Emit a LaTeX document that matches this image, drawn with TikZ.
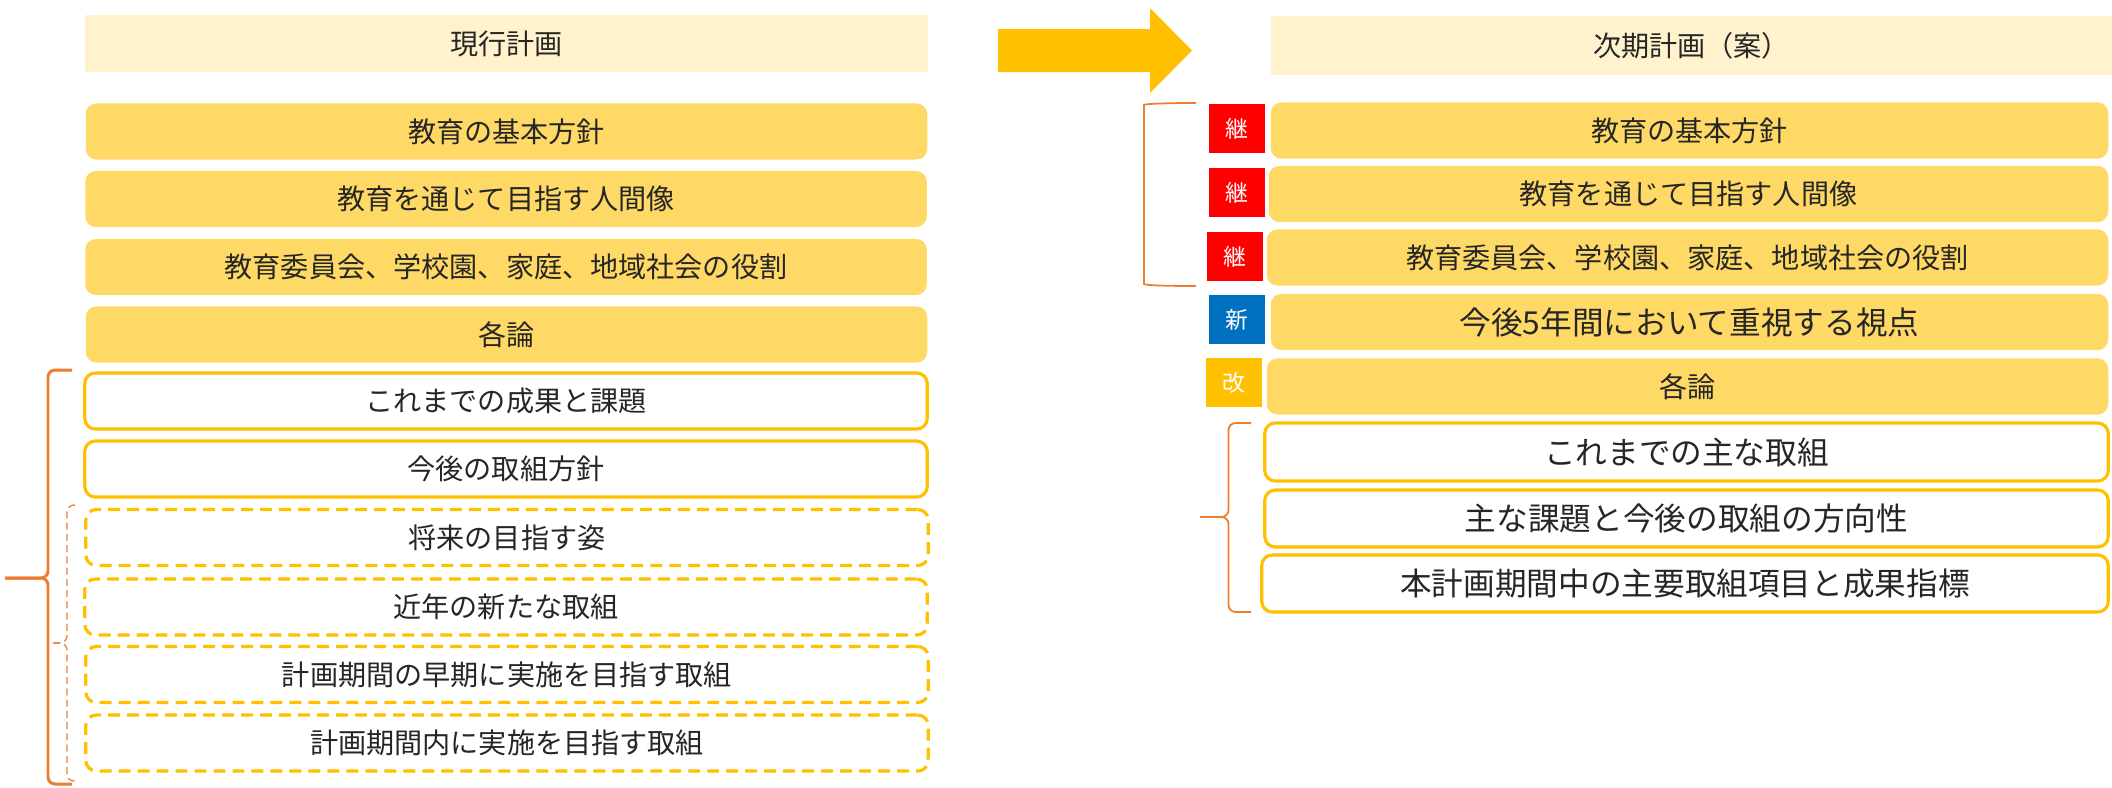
\documentclass[tikz,border=0pt]{standalone}
\usepackage{fontspec}
\setmainfont{Noto Sans CJK JP}
\definecolor{cream}{HTML}{FFF2CC}
\definecolor{gold}{HTML}{FFD966}
\definecolor{amber}{HTML}{FFC000}
\definecolor{bracecol}{HTML}{ED7D31}
\definecolor{keizoku}{HTML}{FF0000}
\definecolor{shinki}{HTML}{0070C0}
\definecolor{ink}{HTML}{262626}

\begin{document}
\begin{tikzpicture}[x=0.01cm,y=-0.01cm,
   headbox/.style={fill=cream,minimum height=0.56cm,inner sep=0pt,text=ink,font=\fontsize{8}{10}\selectfont},
   mainbox/.style={fill=gold,rounded corners=3pt,minimum height=0.56cm,inner sep=0pt,text=ink,font=\fontsize{8}{10}\selectfont},
   linebox/.style={draw=amber,line width=0.9pt,fill=white,rounded corners=3pt,minimum height=0.56cm,inner sep=0pt,text=ink,font=\fontsize{8}{10}\selectfont},
   dashbox/.style={linebox,dash pattern=on 3.4pt off 2pt},
   tagbox/.style={minimum width=0.56cm,minimum height=0.49cm,inner sep=0pt,text=white,font=\fontsize{6.5}{8}\selectfont},
   bigbrace/.style={draw=bracecol,line width=0.85pt,rounded corners=2pt},
   thinbrace/.style={draw=bracecol,line width=0.5pt,rounded corners=2pt}]
   \useasboundingbox (0,0) rectangle (2112,787);

   % present plan
   \node[headbox,minimum width=8.43cm] (lhead) at (506.5,43.5) {現行計画};
   \node[mainbox,minimum width=8.41cm] (l1)  at (506.5,131.5) {教育の基本方針};
   \node[mainbox,minimum width=8.41cm] (l2)  at (506.0,199.0) {教育を通じて目指す人間像};
   \node[mainbox,minimum width=8.41cm] (l3)  at (506.0,267.0) {教育委員会、学校園、家庭、地域社会の役割};
   \node[mainbox,minimum width=8.41cm] (l4)  at (506.5,334.5) {各論};
   \node[linebox,minimum width=8.42cm] (l5)  at (506.0,401.0) {これまでの成果と課題};
   \node[linebox,minimum width=8.42cm] (l6)  at (506.0,469.0) {今後の取組方針};
   \node[dashbox,minimum width=8.42cm] (l7)  at (507.0,537.5) {将来の目指す姿};
   \node[dashbox,minimum width=8.42cm] (l8)  at (506.0,607.0) {近年の新たな取組};
   \node[dashbox,minimum width=8.42cm] (l9)  at (507.0,674.5) {計画期間の早期に実施を目指す取組};
   \node[dashbox,minimum width=8.42cm] (l10) at (507.0,743.0) {計画期間内に実施を目指す取組};

   \draw[bigbrace] (72,370) -| (48,578) -- (5,578);
   \draw[bigbrace] (5,578) -- (48,578) |- (72,784);
   \draw[thinbrace,line width=0.35pt,dash pattern=on 2pt off 1.2pt] (75,505) -| (67,643) -- (53,643);
   \draw[thinbrace,line width=0.35pt,dash pattern=on 2pt off 1.2pt] (53,643) -- (67,643) |- (75,781);

   \fill[amber] (998,29) -- (1150,29) -- (1150,8) -- (1192,50.5) -- (1150,93) -- (1150,72) -- (998,72) -- cycle;

   % next plan
   \node[headbox,minimum width=8.41cm,minimum height=0.59cm] (rhead) at (1691.5,45.5) {次期計画（案）};
   \node[mainbox,minimum width=8.37cm] (r1) at (1689.5,130.5) {教育の基本方針};
   \node[mainbox,minimum width=8.39cm] (r2) at (1688.5,194.0) {教育を通じて目指す人間像};
   \node[mainbox,minimum width=8.41cm] (r3) at (1687.5,257.5) {教育委員会、学校園、家庭、地域社会の役割};
   \node[mainbox,minimum width=8.37cm,font=\fontsize{9}{11}\selectfont] (r4) at (1689.5,322.0) {今後5年間において重視する視点};
   \node[mainbox,minimum width=8.41cm] (r5) at (1687.5,386.5) {各論};
   \node[linebox,minimum width=8.43cm,minimum height=0.58cm,font=\fontsize{9}{11}\selectfont] (r6) at (1686.5,452.0) {これまでの主な取組};
   \node[linebox,minimum width=8.43cm,minimum height=0.57cm,font=\fontsize{9}{11}\selectfont] (r7) at (1686.5,518.5) {主な課題と今後の取組の方向性};
   \node[linebox,minimum width=8.46cm,minimum height=0.57cm,font=\fontsize{9}{11}\selectfont] (r8) at (1685.0,583.5) {本計画期間中の主要取組項目と成果指標};

   \node[tagbox,fill=keizoku] (t1) at (1237,128.5) {継};
   \node[tagbox,fill=keizoku] (t2) at (1237,192.5) {継};
   \node[tagbox,fill=keizoku] (t3) at (1235,256.5) {継};
   \node[tagbox,fill=shinki]  (t4) at (1237,319.5) {新};
   \node[tagbox,fill=amber]   (t5) at (1234,382.5) {改};

   \draw[thinbrace] (1196,103) .. controls (1160,103) and (1144,104) .. (1144,112) -- (1144,277) .. controls (1144,285) and (1160,286) .. (1196,286);
   \draw[thinbrace] (1251,423) -| (1228.5,517) -- (1200,517);
   \draw[thinbrace] (1200,517) -- (1228.5,517) |- (1251,612);
\end{tikzpicture}
\end{document}
